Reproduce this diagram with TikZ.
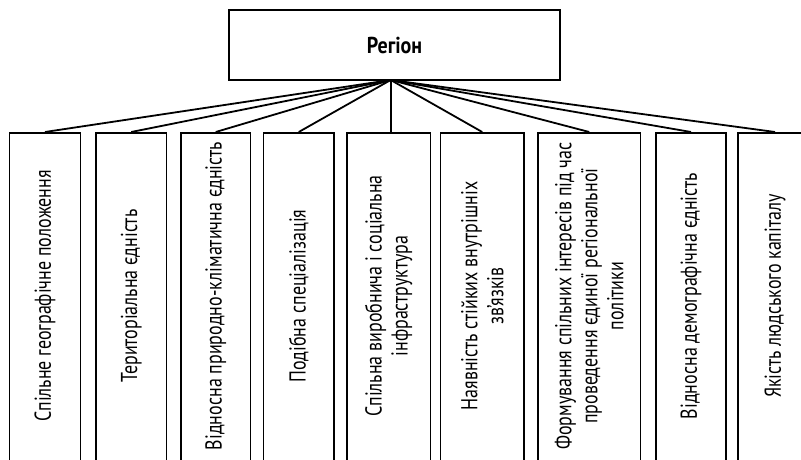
\documentclass[tikz,border=0pt]{standalone}
\usepackage{fontspec}
\setmainfont{PT Sans}[FakeStretch=0.78]
\begin{document}
\begin{tikzpicture}[x=1pt,y=-1pt,
  frame/.style={draw=black,line width=1.8pt,rectangle,inner sep=0pt},
  col/.style={frame,anchor=north,minimum height=338pt},
  lbl/.style={rotate=90,align=center,inner sep=0pt,font=\fontsize{23}{26}\selectfont},
  link/.style={draw=black,line width=1.8pt}]
\useasboundingbox (0,0) rectangle (801,460);
\clip (0,0) rectangle (801,460);
\node[frame,minimum width=331pt,minimum height=70pt,font=\fontsize{23}{26}\selectfont\bfseries\addfontfeature{FakeStretch=0.87}] (top) at (394.5,45) {Регіон};
\coordinate (hub) at (390.7,80);
\node[col,minimum width=71pt]   (b1) at (45,132) {};
\node[col,minimum width=70.5pt] (b2) at (131.25,132) {};
\node[col,minimum width=69.5pt] (b3) at (215.75,132) {};
\node[col,minimum width=70.5pt] (b4) at (298.75,132) {};
\node[col,minimum width=83.5pt] (b5) at (388.75,132) {};
\node[col,minimum width=83.5pt] (b6) at (482.25,132) {};
\node[col,minimum width=102.5pt] (b7) at (589.25,132) {};
\node[col,minimum width=70pt]   (b8) at (691,132) {};
\node[col,minimum width=74pt]   (b9) at (775,132) {};
\node[lbl] (t1) at (45,296) {Спільне географічне положення};
\node[lbl] (t2) at (131.25,296) {Територіальна єдність};
\node[lbl] (t3) at (215.75,296) {Відносна природно-кліматична єдність};
\node[lbl] (t4) at (298.75,296) {Подібна спеціалізація};
\node[lbl] (t5) at (388.75,296) {Спільна виробнича і соціальна\\інфраструктура};
\node[lbl] (t6) at (482.25,296) {Наявність стійких внутрішніх\\зв’язків};
\node[lbl] (t7) at (589.25,296) {Формування спільних інтересів під час\\проведення єдиної регіональної\\політики};
\node[lbl] (t8) at (691,296) {Відносна демографічна єдність};
\node[lbl] (t9) at (775,296) {Якість людського капіталу};
\foreach \b in {b1,b2,b3,b4,b6,b7,b8,b9}
  \draw[link] (hub) -- (\b.north);
\draw[link] (hub) -- (hub |- b5.north);
\end{tikzpicture}
\end{document}
